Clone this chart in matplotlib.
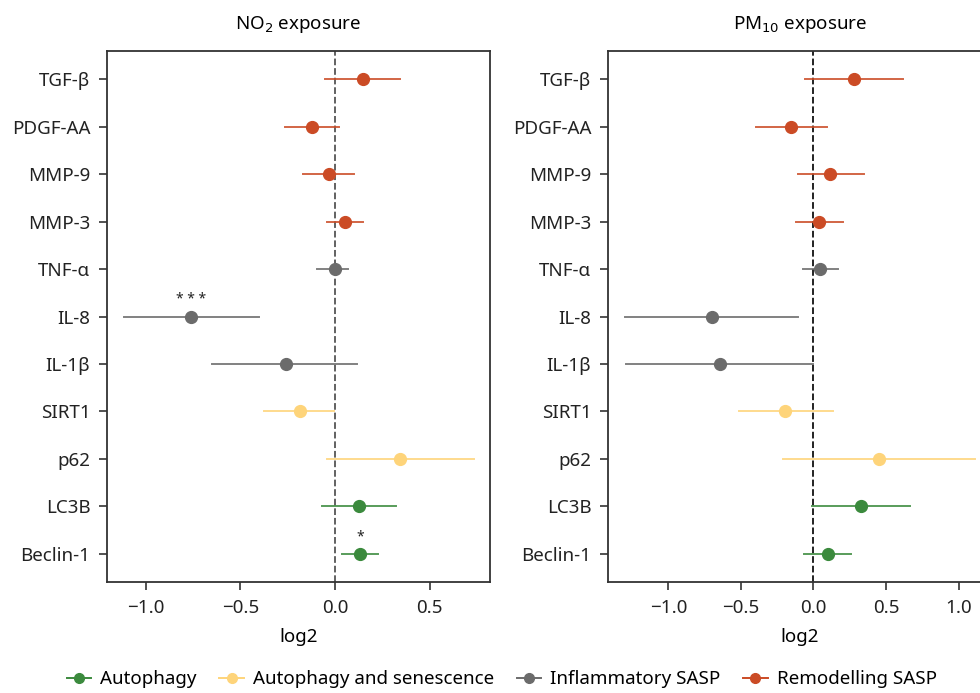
import matplotlib as mpl
import matplotlib.pyplot as plt
from matplotlib.lines import Line2D

mpl.rcParams.update({'font.size': 13.5, 'font.family': ['Noto Sans', 'DejaVu Sans']})

# bottom to top
markers = ['Beclin-1', 'LC3B', 'p62', 'SIRT1', 'IL-1β', 'IL-8', 'TNF-α',
           'MMP-3', 'MMP-9', 'PDGF-AA', 'TGF-β']
groups = ['Autophagy', 'Autophagy', 'Autophagy and senescence', 'Autophagy and senescence',
          'Inflammatory SASP', 'Inflammatory SASP', 'Inflammatory SASP',
          'Remodelling SASP', 'Remodelling SASP', 'Remodelling SASP', 'Remodelling SASP']

no2_est = [0.132, 0.127, 0.342, -0.187, -0.261, -0.760, 0.000, 0.053, -0.034, -0.122, 0.146]
no2_lo = [0.039, -0.069, -0.042, -0.376, -0.649, -1.115, -0.093, -0.042, -0.168, -0.263, -0.053]
no2_hi = [0.229, 0.323, 0.734, -0.003, 0.118, -0.404, 0.071, 0.146, 0.099, 0.021, 0.342]
no2_sig = ['*', '', '', '', '', '***', '', '', '', '', '']

pm10_est = [0.099, 0.326, 0.448, -0.193, -0.641, -0.701, 0.048, 0.039, 0.115, -0.152, 0.276]
pm10_lo = [-0.067, -0.007, -0.211, -0.510, -1.290, -1.297, -0.069, -0.124, -0.110, -0.395, -0.057]
pm10_hi = [0.257, 0.662, 1.110, 0.131, -0.005, -0.106, 0.172, 0.200, 0.347, 0.092, 0.614]
pm10_sig = [''] * 11

colors = {'Autophagy': '#3b8a3d', 'Autophagy and senescence': '#fed47a',
          'Inflammatory SASP': '#6b6b6b', 'Remodelling SASP': '#cb4b25'}

fig = plt.figure(figsize=(9.8, 6.93), dpi=100)
ax1 = fig.add_axes([107/980, 111/693, 383/980, 531/693])
ax2 = fig.add_axes([608/980, 111/693, 384/980, 531/693])


def forest(ax, est, lo, hi, sig, title, xlim, xticks, vcol):
    ax.axvline(0, color=vcol, linestyle='--', linewidth=1.3, zorder=1)
    for i in range(len(markers)):
        c = colors[groups[i]]
        ax.plot([lo[i], hi[i]], [i, i], color=c, linewidth=1.4, alpha=0.85, zorder=2)
        ax.plot(est[i], i, 'o', color=c, markersize=8.5, zorder=3)
        if sig[i]:
            ax.text(est[i], i + 0.2, ' '.join(sig[i]), ha='center', va='bottom', fontsize=10, color='#222222')
    ax.set_yticks(range(len(markers)))
    ax.set_yticklabels(markers)
    ax.set_ylim(-0.6, 10.6)
    ax.set_xlim(*xlim)
    ax.set_xticks(xticks)
    ax.set_xticklabels([('%.1f' % t).replace('-', '\u2212') for t in xticks])
    ax.set_xlabel('log2', labelpad=8)
    ax.set_title(title, pad=16, fontsize=13.5)
    ax.tick_params(length=6, width=1.2, color='#333333', labelcolor='#222222', pad=6)
    for s in ax.spines.values():
        s.set_color('#333333')
        s.set_linewidth(1.3)


forest(ax1, no2_est, no2_lo, no2_hi, no2_sig, 'NO$_2$ exposure', (-1.206, 0.82), [-1.0, -0.5, 0.0, 0.5], '#555555')
forest(ax2, pm10_est, pm10_lo, pm10_hi, pm10_sig, 'PM$_{10}$ exposure', (-1.416, 1.23), [-1.0, -0.5, 0.0, 0.5, 1.0], '#111111')

handles = [Line2D([0], [0], color=colors[g], marker='o', markersize=7, linewidth=1.4, label=g)
           for g in colors]
fig.legend(handles=handles, loc='center', bbox_to_anchor=(0.512, 0.02), ncol=4, frameon=False,
           handlelength=1.3, handletextpad=0.5, columnspacing=1.2, fontsize=13.5)

fig.savefig('out.png', dpi=100)
